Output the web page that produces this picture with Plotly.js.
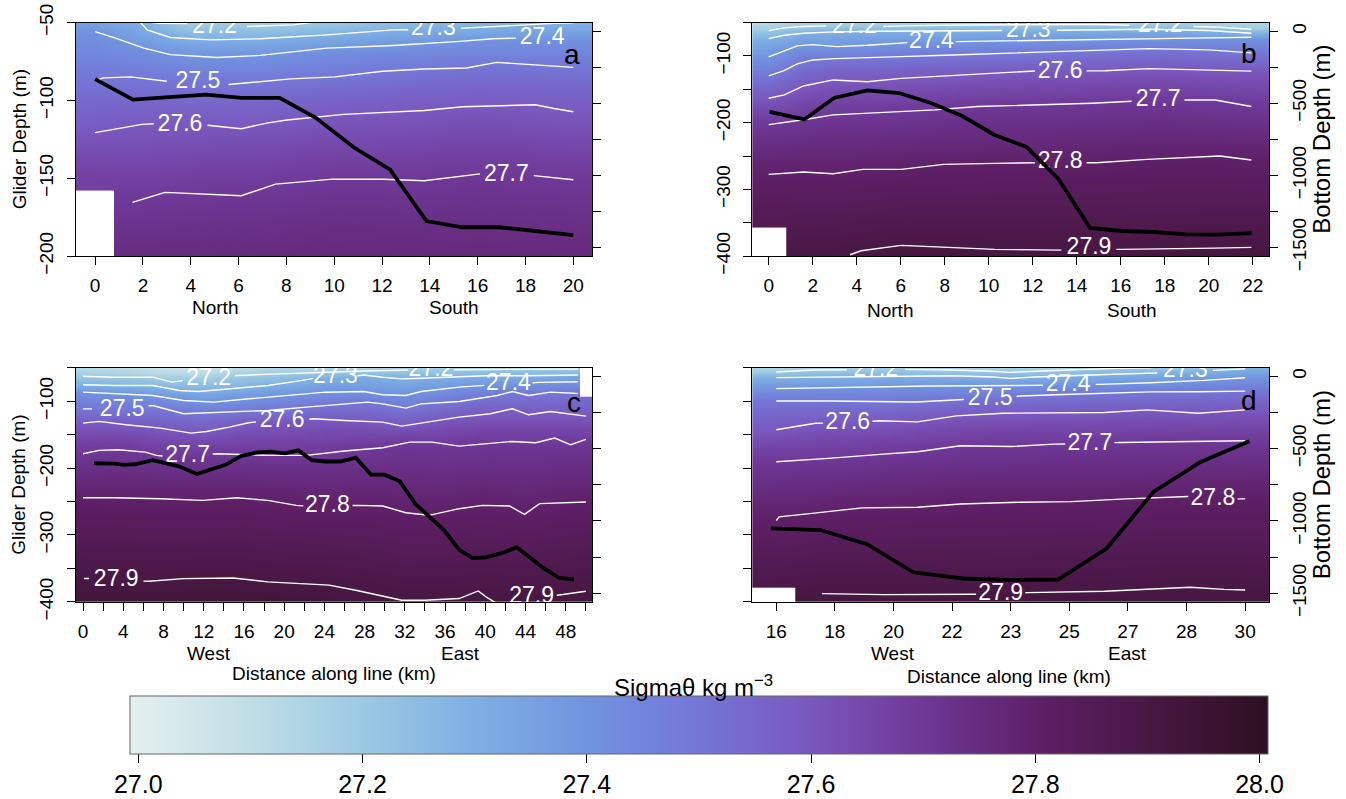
<!DOCTYPE html>
<html><head><meta charset="utf-8">
<script src="https://cdn.plot.ly/plotly-3.0.1.min.js"></script>
<style>body{margin:0;background:#fff}#chart{width:1346px;height:799px}</style>
</head><body><div id="chart"></div>
<script>
// ---------- Panel a: density grid ----------
const a_hx = [0, 1.6, 4, 7, 10, 13, 16, 20];
const a_hy = [-50, -55, -62, -70, -80, -90, -105, -120, -135, -150, -165, -180, -200];
const a_hz = [
 [27.35, 27.31, 27.18, 27.18, 27.20, 27.25, 27.27, 27.29],
 [27.398, 27.341, 27.236, 27.236, 27.264, 27.305, 27.32, 27.344],
 [27.419, 27.385, 27.314, 27.317, 27.35, 27.379, 27.405, 27.411],
 [27.445, 27.427, 27.386, 27.389, 27.42, 27.436, 27.452, 27.453],
 [27.476, 27.474, 27.452, 27.453, 27.474, 27.497, 27.508, 27.504],
 [27.509, 27.514, 27.507, 27.507, 27.521, 27.536, 27.546, 27.539],
 [27.553, 27.563, 27.561, 27.562, 27.583, 27.592, 27.602, 27.592],
 [27.597, 27.607, 27.609, 27.612, 27.626, 27.63, 27.637, 27.629],
 [27.636, 27.638, 27.643, 27.648, 27.662, 27.664, 27.671, 27.663],
 [27.674, 27.668, 27.678, 27.684, 27.699, 27.698, 27.703, 27.698],
 [null, 27.699, 27.706, 27.71, 27.72, 27.718, 27.722, 27.718],
 [null, 27.72, 27.725, 27.729, 27.738, 27.736, 27.74, 27.736],
 [null, 27.75, 27.75, 27.753, 27.76, 27.758, 27.76, 27.758]
];
// Panel a isopycnals (km, glider depth)
const a_s272_x = [2.4, 2.73, 3.85, null, 6.35, 7.3, 8.3, 9.0];
const a_s272_y = [-50, -50.4, -50.6, null, -52.5, -52, -51.5, -50];
const a_s273_x = [1.9, 2.18, 3.15, 4.82, 6.9, 9.69, 12.47, 13.1, null, 15.3, 15.4, 18.03, 19.2, 20];
const a_s273_y = [-50, -54.7, -59.6, -61.1, -60.4, -57.9, -54.7, -54.6, null, -53.7, -53.6, -51.5, -50.4, -50.2];
const a_s274_x = [0, 0.85, 2.04, 3.15, 5.1, 6.9, 9.69, 12.47, 15.25, 16.64, 17.6];
const a_s274_y = [-55.8, -60, -66.4, -70.6, -72.4, -71.1, -66.4, -64.7, -62.1, -60.4, -60];
const a_s275_x = [0, 0.37, 1.48, 3.0, null, 5.58, 6.35, 8.19, 10.02, 12.02, 13.77, 15.53, 16.8, 18.56, 20];
const a_s275_y = [-87.1, -85.5, -84.9, -87.7, null, -89.8, -88.7, -86.2, -84.9, -81.3, -79.8, -79.2, -75.6, -77.1, -78.8];
const a_s276_x = [0, 0.69, 1.96, 2.45, null, 4.7, 6.11, 7.23, 8.03, 10.4, 12.0, 13.77, 15.37, 16.8, 18.4, 19.2, 20];
const a_s276_y = [-120.7, -119, -115.4, -115, null, -116, -118.2, -114.4, -112.6, -109, -108, -106.5, -104.1, -103.7, -102.8, -105.2, -107.3];
const a_s277_x = [1.56, 2.92, 6.11, 7.55, 9.94, 12.02, 13.77, 15.85, 16.1, null, 18.35, 20];
const a_s277_y = [-165.5, -159.1, -161.2, -153.8, -150.6, -150.6, -151.6, -147.4, -147.2, null, -148.3, -151];
const a_lab_x = [5.0, 14.15, 18.7, 4.3, 3.55, 17.2];
const a_lab_y = [-53, -54.6, -60, -88.6, -116, -148];
const a_lab_t = ["27.2", "27.3", "27.4", "27.5", "27.6", "27.7"];
// Panel a bottom depth
const a_bx = [0, 1.58, 3.1, 4.64, 6.12, 7.72, 9.23, 10.83, 12.34, 13.86, 15.37, 16.89, 18.4, 20];
const a_bd = [-332, -475, -458, -440, -463, -463, -601, -807, -961, -1317, -1360, -1360, -1386, -1415];

// ---------- Panel b ----------
const b_hx = [0, 1.5, 3, 6, 10, 14, 18, 22];
const b_hy = [-50, -57, -65, -75, -90, -105, -125, -150, -175, -200, -230, -260, -290, -320, -350, -365, -385, -400];
const b_hz = [
 [27.12, 27.16, 27.16, 27.16, 27.17, 27.17, 27.16, 27.14],
 [27.167, 27.21, 27.222, 27.225, 27.244, 27.25, 27.24, 27.182],
 [27.225, 27.29, 27.305, 27.311, 27.319, 27.327, 27.333, 27.283],
 [27.304, 27.347, 27.355, 27.367, 27.381, 27.393, 27.4, 27.413],
 [27.357, 27.42, 27.419, 27.445, 27.463, 27.478, 27.503, 27.477],
 [27.412, 27.48, 27.5, 27.512, 27.527, 27.539, 27.552, 27.535],
 [27.483, 27.542, 27.565, 27.573, 27.593, 27.606, 27.611, 27.604],
 [27.56, 27.608, 27.627, 27.633, 27.647, 27.657, 27.664, 27.651],
 [27.629, 27.658, 27.675, 27.684, 27.698, 27.704, 27.709, 27.698],
 [27.692, 27.705, 27.714, 27.72, 27.728, 27.733, 27.738, 27.73],
 [27.737, 27.744, 27.748, 27.754, 27.764, 27.766, 27.772, 27.768],
 [27.777, 27.782, 27.782, 27.789, 27.799, 27.8, 27.804, 27.803],
 [27.809, 27.812, 27.811, 27.817, 27.822, 27.823, 27.827, 27.826],
 [27.832, 27.835, 27.835, 27.843, 27.846, 27.846, 27.849, 27.849],
 [27.855, 27.858, 27.859, 27.87, 27.869, 27.869, 27.871, 27.872],
 [null, 27.87, 27.871, 27.883, 27.881, 27.881, 27.882, 27.883],
 [null, 27.885, 27.887, 27.9, 27.896, 27.896, 27.897, 27.898],
 [null, 27.896, 27.898, 27.91, 27.906, 27.906, 27.907, 27.908]
];
const b_s272_x = [0, 0.7, 1.5, 2.6, null, 5.2, 6, 8, 10.5, 13, 15, 16.4, null, 19.3, 20.5, 21.94];
const b_s272_y = [-62, -58, -56, -55, null, -56, -55, -54, -53, -53, -53, -54, null, -56, -57, -60];
const b_s273_x = [0, 0.7, 1.58, 3, 5, 7, 9, 10.6, null, 13.1, 15, 17.3, 20, 21.94];
const b_s273_y = [-74, -69, -66, -64, -63, -62.5, -62, -62, null, -61.5, -61, -60, -62, -66];
const b_s274_x = [0, 0.7, 1.3, 2, 3.1, 4.5, 6.3, null, 8.5, 11, 14, 17.3, 20, 21.94];
const b_s274_y = [-101.5, -92, -85, -83, -86, -84, -80, null, -78.5, -77.5, -76, -75, -73, -72];
const b_s275_x = [0, 0.7, 1.3, 2, 3, 4.5, 6, 8, 10, 12, 14, 17.3, 20, 21.94];
const b_s275_y = [-130, -122, -112, -106, -104, -103, -101, -99, -97, -95, -93, -89, -91, -95.5];
const b_s276_x = [0, 0.71, 1.58, 2.93, 4.48, 6.02, 9.49, 11.81, 12.1, null, 14.45, 15.28, 17.3, 19.14, 21.94];
const b_s276_y = [-163.5, -158.5, -145, -136, -138.6, -133.7, -127.3, -122.8, -122.6, null, -122.4, -122.3, -119, -120.3, -122.8];
const b_s277_x = [0, 1.58, 2.93, 4.48, 6.02, 7.56, 9.49, 12.39, 14.7, 16.5, null, 18.9, 20.3, 21.94];
const b_s277_y = [-203, -195.7, -188.3, -185.8, -183.3, -180.8, -175.9, -173.4, -170.9, -168, null, -166, -166, -175.9];
const b_s278_x = [0, 1.58, 2.93, 4.28, 6.02, 7.95, 10.27, 11.81, 12.1, null, 14.45, 14.9, 17.2, 20.5, 21.94];
const b_s278_y = [-277.5, -274, -276.5, -270, -270, -262.6, -261, -260, -260, null, -260, -260, -255, -250, -256];
const b_s279_x = [3.7, 4.2, 6.02, 8, 10.27, 13.3, null, 15.8, 16.06, 20.3, 21.94];
const b_s279_y = [-398, -392, -384, -387, -390, -391, null, -390, -390, -388, -387];
const b_lab_x = [3.9, 11.8, 17.8, 7.4, 13.25, 17.7, 13.25, 14.56];
const b_lab_y = [-57, -62.5, -55, -79, -124, -166, -260, -389];
const b_lab_t = ["27.2", "27.3", "27.2", "27.4", "27.6", "27.7", "27.8", "27.9"];
const b_bx = [0.04, 1.62, 2.97, 4.48, 5.93, 7.38, 8.82, 10.27, 11.72, 13.17, 14.61, 16.06, 17.51, 18.96, 20.4, 21.95];
const b_bd = [-560, -612, -463, -411, -429, -498, -590, -720, -803, -1025, -1365, -1386, -1393, -1409, -1411, -1400];

// ---------- Panel c ----------
const c_hx = [0, 4, 8, 12, 16, 20, 24, 28, 32, 36, 40, 44, 48.5, 50.3];
const c_hy = [-50, -57, -65, -75, -88, -100, -115, -130, -150, -170, -190, -220, -250, -280, -320, -360, -380, -400];
const c_hz = [
 [27.12, 27.1, 27.07, 27.05, 27.1, 27.13, 27.13, 27.15, 27.16, 27.17, 27.17, 27.18, 27.18, null],
 [27.165, 27.146, 27.12, 27.11, 27.17, 27.187, 27.2, 27.233, 27.225, 27.24, 27.247, 27.25, 27.256, null],
 [27.218, 27.208, 27.178, 27.174, 27.218, 27.24, 27.289, 27.316, 27.292, 27.311, 27.321, 27.325, 27.34, null],
 [27.295, 27.285, 27.258, 27.238, 27.276, 27.306, 27.345, 27.356, 27.336, 27.367, 27.393, 27.406, 27.424, null],
 [27.406, 27.388, 27.357, 27.319, 27.35, 27.382, 27.41, 27.413, 27.388, 27.433, 27.471, 27.488, 27.5, null],
 [27.455, 27.445, 27.433, 27.394, 27.417, 27.443, 27.47, 27.488, 27.447, 27.49, 27.527, 27.533, 27.538, 27.538],
 [27.518, 27.509, 27.51, 27.482, 27.5, 27.517, 27.541, 27.546, 27.519, 27.554, 27.585, 27.583, 27.584, 27.584],
 [27.586, 27.577, 27.56, 27.543, 27.579, 27.6, 27.604, 27.6, 27.574, 27.61, 27.625, 27.624, 27.624, 27.625],
 [27.637, 27.639, 27.62, 27.612, 27.635, 27.637, 27.645, 27.649, 27.654, 27.66, 27.67, 27.671, 27.671, 27.668],
 [27.681, 27.691, 27.67, 27.673, 27.678, 27.678, 27.686, 27.698, 27.709, 27.704, 27.708, 27.708, 27.709, 27.712],
 [27.717, 27.723, 27.713, 27.716, 27.715, 27.713, 27.716, 27.722, 27.728, 27.724, 27.729, 27.727, 27.731, 27.733],
 [27.762, 27.764, 27.759, 27.76, 27.761, 27.756, 27.754, 27.758, 27.756, 27.755, 27.761, 27.756, 27.764, 27.766],
 [27.805, 27.804, 27.803, 27.803, 27.803, 27.799, 27.792, 27.793, 27.785, 27.785, 27.794, 27.785, 27.799, 27.8],
 [27.83, 27.829, 27.828, 27.828, 27.829, 27.824, 27.82, 27.819, 27.811, 27.811, 27.818, 27.812, 27.821, 27.822],
 [27.862, 27.862, 27.861, 27.862, 27.862, 27.857, 27.854, 27.85, 27.841, 27.842, 27.847, 27.842, 27.851, 27.852],
 [27.895, 27.894, 27.894, 27.896, 27.895, 27.89, 27.887, 27.882, 27.872, 27.873, 27.876, 27.873, 27.88, 27.881],
 [27.91, 27.91, 27.91, 27.912, 27.911, 27.907, 27.904, 27.898, 27.887, 27.888, 27.891, 27.888, 27.894, 27.895],
 [27.925, 27.925, 27.925, 27.927, 27.926, 27.923, 27.92, 27.91, 27.902, 27.903, 27.905, 27.904, 27.909, 27.91]
];
const c_s272_x = [0, 3.12, 6.93, 8.84, 9.9, null, 15.1, 15.3, 18, 22.2, 25, 28, 31, 32.3, null, 36.9, 40, 44, 48, 49.2];
const c_s272_y = [-62.7, -64.2, -64.2, -71.6, -69.5, null, -62, -61.7, -60, -57.7, -56, -55, -54, -53.5, null, -53, -52.5, -52, -52, -52];
const c_s273_x = [0, 3.12, 6.93, 9.6, 11.5, 14.55, 18.4, 21.8, 22.9, null, 27.3, 27.9, 29.8, 31.7, 33.6, 37.4, 40, 44, 49.2];
const c_s273_y = [-75.6, -76.6, -76.6, -84, -85.6, -81.6, -76.6, -69, -66, null, -62, -61, -64.2, -66.7, -65.7, -63, -62, -62, -61];
const c_s274_x = [0, 3.12, 6.93, 10, 13, 16.5, 20.3, 24.1, 27.9, 29.8, 32.1, 33.6, 37.4, 39.9, null, 44.7, 45.4, 49.2];
const c_s274_y = [-86.6, -89.1, -91.5, -99, -101.5, -96.5, -91.5, -86.6, -85.6, -90.5, -91.5, -85.6, -79.1, -76.5, null, -72.5, -72, -71];
const c_s275_x = [0, 0.9, null, 6.5, 6.93, 10, 14.55, 18.4, 22.2, 26, 28.3, 29.8, 32.1, 33.6, 37.4, 41.2, 42.7, 44.3, 46.5, 49.2];
const c_s275_y = [-111.5, -111.5, null, -107, -106.5, -118.9, -116.4, -113.9, -109, -104, -101.5, -104, -110.4, -104, -100.5, -91.5, -85.6, -91.5, -86.6, -88.5];
const c_s276_x = [0, 1.6, 4.27, 7.7, 10.74, 12.27, 14.55, 16.46, 17.2, null, 22.5, 22.9, 26, 29.8, 31.7, 34, 37.4, 40.5, 42.7, 44.3, 46.5, 50];
const c_s276_y = [-132.8, -130.3, -135.3, -140.3, -147.8, -145.3, -138.8, -132.3, -131, null, -127, -126.4, -128.9, -131.3, -137.3, -132.3, -123.9, -118.9, -111.4, -120.4, -115.4, -122.4];
const c_s277_x = [0, 1.6, 3.5, 6.2, 7.3, 7.9, null, 12.9, 13.4, 18.4, 22.2, 26, 29.8, 32.5, 34.7, 37.4, 41.2, 42.7, 45, 46.9, 48.5, 50];
const c_s277_y = [-178.6, -173.6, -172.6, -176.1, -181.1, -182, null, -179, -178.6, -181.1, -181.1, -174.6, -169.7, -161.2, -161.2, -167.2, -162.7, -160.2, -162.2, -155.2, -165.2, -157.2];
const c_s278_x = [0, 3.12, 7.7, 11.9, 15.3, 18.36, 21.2, 21.9, null, 26.8, 27.3, 29.8, 32.1, 34.4, 37.4, 39.7, 42.4, 43.9, 45.4, 50];
const c_s278_y = [-244.3, -244.3, -245.8, -248.3, -244.3, -248.3, -255.7, -256.5, null, -256, -255.7, -256.7, -266.7, -270.6, -260.7, -255.7, -256.7, -269.2, -253.2, -250.7];
const c_s279_x = [0.1, 0.6, null, 6.0, 6.55, 9.98, 14.93, 18.36, 21.8, 24.46, 27.12, 31.7, 33.98, 37.4, 39.3, 40.08, 41, null, 47.1, 47.7, 50];
const c_s279_y = [-365, -365, null, -369, -369.2, -365.2, -364.2, -370, -372.6, -375, -382.6, -397.5, -397.5, -395, -383.6, -392.5, -401, null, -390, -389, -384];
const c_lab_x = [12.5, 25.1, 34.6, 42.3, 3.9, 19.8, 10.4, 24.3, 3.3, 44.6];
const c_lab_y = [-67.5, -64.5, -54, -75.5, -113, -130.3, -182, -256.7, -367.7, -392.5];
const c_lab_t = ["27.2", "27.3", "27.2", "27.4", "27.5", "27.6", "27.7", "27.8", "27.9", "27.9"];
const c_bx = [1.1, 3.12, 4.07, 5.21, 6.93, 8.46, 9.6, 11.31, 12.83, 14.17, 15.69, 17.21, 18.55, 20.07, 21.41, 22.74, 24.07, 25.6, 27.12, 28.64, 29.98, 31.5, 33.03, 34.35, 35.89, 37.41, 38.74, 40.07, 41.6, 43.12, 44.46, 45.78, 47.31, 48.83];
const c_bd = [-601, -603, -612, -608, -580, -608, -624, -676, -642, -612, -551, -528, -521, -533, -512, -580, -589, -589, -562, -680, -680, -726, -881, -961, -1063, -1200, -1257, -1252, -1223, -1182, -1257, -1325, -1393, -1405];

// ---------- Panel d (x = position of station label) ----------
const d_hx = [-0.1, 0.75, 2, 3.2, 4.4, 5.6, 6.8, 8.1];
const d_hy = [-50, -57, -65, -75, -88, -100, -115, -130, -150, -170, -190, -220, -250, -280, -320, -360, -372, -386, -400];
const d_hz = [
 [27.15, 27.17, 27.18, 27.16, 27.16, 27.19, 27.2, 27.29],
 [27.207, 27.232, 27.243, 27.225, 27.222, 27.267, 27.3, 27.341],
 [27.301, 27.303, 27.313, 27.314, 27.306, 27.334, 27.359, 27.4],
 [27.363, 27.368, 27.38, 27.386, 27.389, 27.4, 27.429, 27.45],
 [27.437, 27.441, 27.444, 27.458, 27.474, 27.493, 27.507, 27.511],
 [27.501, 27.501, 27.498, 27.516, 27.531, 27.539, 27.547, 27.554],
 [27.535, 27.545, 27.549, 27.576, 27.588, 27.593, 27.597, 27.604],
 [27.57, 27.588, 27.6, 27.62, 27.626, 27.629, 27.632, 27.637],
 [27.615, 27.631, 27.642, 27.663, 27.668, 27.673, 27.677, 27.68],
 [27.657, 27.669, 27.684, 27.703, 27.706, 27.709, 27.712, 27.714],
 [27.699, 27.705, 27.715, 27.727, 27.729, 27.733, 27.736, 27.738],
 [27.734, 27.741, 27.752, 27.761, 27.764, 27.768, 27.772, 27.775],
 [27.768, 27.779, 27.789, 27.796, 27.799, 27.802, 27.805, 27.807],
 [27.802, 27.811, 27.816, 27.82, 27.821, 27.824, 27.827, 27.828],
 [27.836, 27.844, 27.847, 27.849, 27.851, 27.853, 27.858, 27.856],
 [27.87, 27.877, 27.878, 27.879, 27.881, 27.882, 27.885, 27.885],
 [27.88, 27.887, 27.887, 27.888, 27.89, 27.891, 27.894, 27.893],
 [null, 27.898, 27.898, 27.898, 27.9, 27.901, 27.904, 27.903],
 [null, 27.91, 27.908, 27.908, 27.91, 27.911, 27.914, 27.913]
];
const d_s272_x = [0, 0.63, 1.2, null, 2.2, 2.8, 3.6, 4.0, 4.5, 5.2, 5.8, 6.4];
const d_s272_y = [-56.4, -53.4, -53, null, -52.5, -53, -55, -57, -55, -52.5, -51, -50];
const d_s273_x = [0, 0.91, 2, 3, 3.7, 4.0, 4.4, 5.2, 6, 6.5, null, 7.45, 8];
const d_s273_y = [-64.9, -64, -63, -62, -64, -66, -64, -61, -59, -58, null, -54, -51.5];
const d_s274_x = [0, 0.91, 2.62, 4.33, 4.55, null, 5.45, 5.52, 6.38, 7.3, 8];
const d_s274_y = [-81.3, -79.8, -77.3, -76.4, -76.2, null, -75, -74.9, -72.4, -69, -65];
const d_s275_x = [0, 0.91, 2.39, 3.2, null, 4.1, 4.16, 4.9, 6.38, 7.2, 8];
const d_s275_y = [-99.7, -99.7, -101.2, -97.5, null, -93, -92.2, -90, -86.2, -86, -85];
const d_s276_x = [0, 0.67, 0.8, null, 1.64, 1.76, 2.41, 3.07, 3.87, 4.88, 5.6, 6.33, 7.2, 8];
const d_s276_y = [-142.8, -133, -132.9, null, -130, -129.4, -131, -122, -118, -118, -117, -113, -118, -113];
const d_s277_x = [0, 0.89, 1.83, 2.41, 3.14, 4.01, 4.74, 4.93, null, 5.77, 5.9, 7.06, 8];
const d_s277_y = [-190.5, -185.6, -179.1, -175.6, -166.7, -167.7, -164.2, -164, null, -162, -161.7, -160.2, -159.2];
const d_s278_x = [0, 0.05, 0.53, 1.47, 2.41, 3.14, 4.16, 5.03, 5.97, 6.91, 7.03, null, 7.87, 8.0];
const d_s278_y = [-278.4, -273, -268.5, -259.5, -258.5, -253.6, -251.1, -250.1, -246.1, -242.7, -242.5, null, -246, -246];
const d_s279_x = [0.78, 1.83, 3.36, 3.41, null, 4.25, 4.3, 5.6, 6.33, 7.06, 7.64, 8.0];
const d_s279_y = [-387.6, -389.1, -388.6, -388.5, null, -386.3, -386.1, -384.1, -381.2, -378.2, -381.2, -382.2];
const d_lab_x = [1.7, 6.98, 4.98, 3.65, 1.22, 5.35, 7.45, 3.83];
const d_lab_y = [-54, -56, -76.5, -97, -132.5, -164, -246, -388];
const d_lab_t = ["27.2", "27.3", "27.4", "27.5", "27.6", "27.7", "27.8", "27.9"];
const d_bx = [-0.09, 0.75, 1.55, 2.34, 3.18, 4.01, 4.81, 5.64, 6.44, 7.24, 8.07];
const d_bd = [-1052, -1063, -1161, -1355, -1398, -1409, -1405, -1189, -797, -592, -448];

// ---------- Tick labels ----------
const a_xticks = [0, 2, 4, 6, 8, 10, 12, 14, 16, 18, 20];
const b_xticks = [0, 2, 4, 6, 8, 10, 12, 14, 16, 18, 20, 22];
const c_xticks = [0, 4, 8, 12, 16, 20, 24, 28, 32, 36, 40, 44, 48];
const c_xminor = [2, 6, 10, 14, 18, 22, 26, 30, 34, 38, 42, 46, 50];
const d_xticks = [0, 1, 2, 3, 4, 5, 6, 7, 8];
const d_xtext = ["16", "18", "20", "22", "23", "25", "27", "28", "30"];
const a_yticks = [-200, -150, -100, -50];
const a_ytext = ["\u2212200", "\u2212150", "\u2212100", "\u221250"];
const deep_yticks = [-400, -300, -200, -100];
const deep_ytext = ["\u2212400", "\u2212300", "\u2212200", "\u2212100"];
const deep_yminor = [-350, -250, -150, -50];
const bot_ticks = [-1500, -1000, -500, 0];
const bot_text = ["\u22121500", "\u22121000", "\u2212500", "0"];
const bot_minor = [-1250, -750, -250];
const cb_ticks = [27.0, 27.2, 27.4, 27.6, 27.8, 28.0];
const cb_text = ["27.0", "27.2", "27.4", "27.6", "27.8", "28.0"];

// ---------- Build ----------
const FONT = "Liberation Sans, Arial, sans-serif";
const traces = [];
function panel(hx, hy, hz, iso, lx, ly, lt, bx, bd, xa, ya, ya2) {
  traces.push({type: "heatmap", x: hx, y: hy, z: hz, coloraxis: "coloraxis", zsmooth: "best",
    xaxis: xa, yaxis: ya, hoverinfo: "skip"});
  iso.forEach(p => traces.push({type: "scatter", mode: "lines", x: p[0], y: p[1], xaxis: xa, yaxis: ya,
    line: {color: "#ffffff", width: 1.4}, hoverinfo: "skip", showlegend: false}));
  traces.push({type: "scatter", mode: "text", x: lx, y: ly, text: lt, xaxis: xa, yaxis: ya,
    textfont: {family: FONT, size: 23, color: "#ffffff"}, textposition: "middle center",
    cliponaxis: true, hoverinfo: "skip", showlegend: false});
  traces.push({type: "scatter", mode: "lines", x: bx, y: bd, xaxis: xa, yaxis: ya2,
    line: {color: "#000000", width: 3.8}, hoverinfo: "skip", showlegend: false});
}
panel(a_hx, a_hy, a_hz,
  [[a_s272_x, a_s272_y], [a_s273_x, a_s273_y], [a_s274_x, a_s274_y], [a_s275_x, a_s275_y], [a_s276_x, a_s276_y], [a_s277_x, a_s277_y]],
  a_lab_x, a_lab_y, a_lab_t, a_bx, a_bd, "x", "y", "y2");
panel(b_hx, b_hy, b_hz,
  [[b_s272_x, b_s272_y], [b_s273_x, b_s273_y], [b_s274_x, b_s274_y], [b_s275_x, b_s275_y], [b_s276_x, b_s276_y], [b_s277_x, b_s277_y], [b_s278_x, b_s278_y], [b_s279_x, b_s279_y]],
  b_lab_x, b_lab_y, b_lab_t, b_bx, b_bd, "x2", "y3", "y4");
panel(c_hx, c_hy, c_hz,
  [[c_s272_x, c_s272_y], [c_s273_x, c_s273_y], [c_s274_x, c_s274_y], [c_s275_x, c_s275_y], [c_s276_x, c_s276_y], [c_s277_x, c_s277_y], [c_s278_x, c_s278_y], [c_s279_x, c_s279_y]],
  c_lab_x, c_lab_y, c_lab_t, c_bx, c_bd, "x3", "y5", "y6");
panel(d_hx, d_hy, d_hz,
  [[d_s272_x, d_s272_y], [d_s273_x, d_s273_y], [d_s274_x, d_s274_y], [d_s275_x, d_s275_y], [d_s276_x, d_s276_y], [d_s277_x, d_s277_y], [d_s278_x, d_s278_y], [d_s279_x, d_s279_y]],
  d_lab_x, d_lab_y, d_lab_t, d_bx, d_bd, "x4", "y7", "y8");

const tickfont = {family: FONT, size: 19, color: "#000"};
function minorTicks(vals) {
  return vals ? {tickmode: "array", tickvals: vals, ticks: "outside", ticklen: 8, tickcolor: "#000", tickwidth: 1, showgrid: false} : undefined;
}
function xax(dom, anchor, range, tv, tt, minor) {
  const o = {domain: dom, anchor: anchor, range: range, tickmode: "array", tickvals: tv, ticktext: tt,
    showline: true, mirror: true, linecolor: "#000", linewidth: 1, ticks: "outside", ticklen: 8,
    tickcolor: "#000", showgrid: false, zeroline: false, tickfont: tickfont, ticklabelstandoff: 4, fixedrange: true};
  if (minor) o.minor = minorTicks(minor);
  return o;
}
function yax(dom, anchor, range, tv, tt, showlab, minor) {
  const o = {domain: dom, anchor: anchor, range: range, tickmode: "array", tickvals: tv, ticktext: tt,
    showticklabels: showlab, tickangle: -90,
    showline: true, mirror: true, linecolor: "#000", linewidth: 1, ticks: "outside", ticklen: 8,
    tickcolor: "#000", showgrid: false, zeroline: false, tickfont: tickfont, ticklabelstandoff: 6, fixedrange: true};
  if (minor) o.minor = minorTicks(minor);
  return o;
}
function y2ax(over, anchor, showlab) {
  return {overlaying: over, anchor: anchor, side: "right", range: [-1560, 60], tickmode: "array",
    tickvals: bot_ticks, ticktext: bot_text, showticklabels: showlab, tickangle: -90,
    showline: false, ticks: "outside", ticklen: 8, tickcolor: "#000", showgrid: false, zeroline: false,
    tickfont: tickfont, ticklabelstandoff: 5, fixedrange: true, minor: minorTicks(bot_minor)};
}
const colL = [0.05646, 0.44012], colR = [0.55884, 0.94294];
const rowT = [0.67747, 0.97159], rowB = [0.24193, 0.53692];

const ann = [];
function A(text, x, y, xref, yref, size, angle) {
  ann.push({text: text, x: x, y: y, xref: xref, yref: yref, showarrow: false,
    font: {family: FONT, size: size, color: "#000"}, textangle: angle || 0,
    xanchor: "center", yanchor: "middle"});
}
A("Glider Depth (m)", 0.01412, 0.8245, "paper", "paper", 19, -90);
A("Glider Depth (m)", 0.01412, 0.38943, "paper", "paper", 19, -90);
A("Bottom Depth (m)", 0.9818, 0.8245, "paper", "paper", 24, -90);
A("Bottom Depth (m)", 0.9818, 0.38943, "paper", "paper", 24, -90);
A("North", 5, 0.6126, "x", "paper", 19);
A("South", 15, 0.6126, "x", "paper", 19);
A("North", 5.5, 0.6089, "x2", "paper", 19);
A("South", 16.5, 0.6089, "x2", "paper", 19);
A("West", 12.5, 0.1765, "x3", "paper", 19);
A("East", 37.5, 0.1765, "x3", "paper", 19);
A("West", 2, 0.1765, "x4", "paper", 19);
A("East", 6, 0.1765, "x4", "paper", 19);
A("Distance along line (km)", 0.24792, 0.1514, "paper", "paper", 19);
A("Distance along line (km)", 0.74978, 0.1477, "paper", "paper", 19);
A("a", 19.96, -70.6, "x", "y", 28);
A("b", 21.84, -96, "x2", "y3", 28);
A("c", 48.8, -101.5, "x3", "y5", 28);
A("d", 8.06, -99, "x4", "y7", 28);
A("Sigma\u03b8 kg m<sup>\u22123</sup>", 0.5149, 0.1355, "paper", "paper", 24);

const layout = {
  width: 1346, height: 799, margin: {l: 0, r: 0, t: 0, b: 0},
  paper_bgcolor: "#ffffff", plot_bgcolor: "#ffffff", showlegend: false,
  font: {family: FONT, color: "#000"},
  xaxis: xax(colL, "y", [-0.8, 20.8], a_xticks, a_xticks.map(String)),
  yaxis: yax(rowT, "x", [-200, -50], a_yticks, a_ytext, true),
  yaxis2: y2ax("y", "x", false),
  xaxis2: xax(colR, "y3", [-0.75, 22.75], b_xticks, b_xticks.map(String)),
  yaxis3: yax(rowT, "x2", [-400, -50], deep_yticks, deep_ytext, true, deep_yminor),
  yaxis4: y2ax("y3", "x2", true),
  xaxis3: xax(colL, "y5", [-0.7, 50.65], c_xticks, c_xticks.map(String), c_xminor),
  yaxis5: yax(rowB, "x3", [-400, -50], deep_yticks, deep_ytext, true, deep_yminor),
  yaxis6: y2ax("y5", "x3", false),
  xaxis4: xax(colR, "y7", [-0.41, 8.41], d_xticks, d_xtext),
  yaxis7: yax(rowB, "x4", [-400, -50], deep_yticks, deep_ytext, false, deep_yminor),
  yaxis8: y2ax("y7", "x4", true),
  coloraxis: {
    cmin: 26.993, cmax: 28.008,
    colorscale: [[0.0, "#e5f0f0"], [0.1, "#c2dfe6"], [0.2, "#9dcae3"], [0.3, "#7fb0e3"], [0.4, "#7194e0"],
      [0.5, "#7476d6"], [0.6, "#7a57bd"], [0.7, "#6e3795"], [0.8, "#5e1f66"], [0.9, "#471741"], [1.0, "#2d1022"]],
    colorbar: {orientation: "h", lenmode: "pixels", len: 1137.7, thicknessmode: "pixels", thickness: 58,
      x: 0.51965, xanchor: "center", y: 0.123, yanchor: "top", xpad: 0, ypad: 0,
      outlinewidth: 1, outlinecolor: "#666", ticks: "outside", ticklen: 9, tickcolor: "#000",
      tickmode: "array", tickvals: cb_ticks, ticktext: cb_text,
      tickfont: {family: FONT, size: 25, color: "#000"}}
  },
  annotations: ann
};
Plotly.newPlot("chart", traces, layout, {staticPlot: true, displayModeBar: false});
</script></body></html>
